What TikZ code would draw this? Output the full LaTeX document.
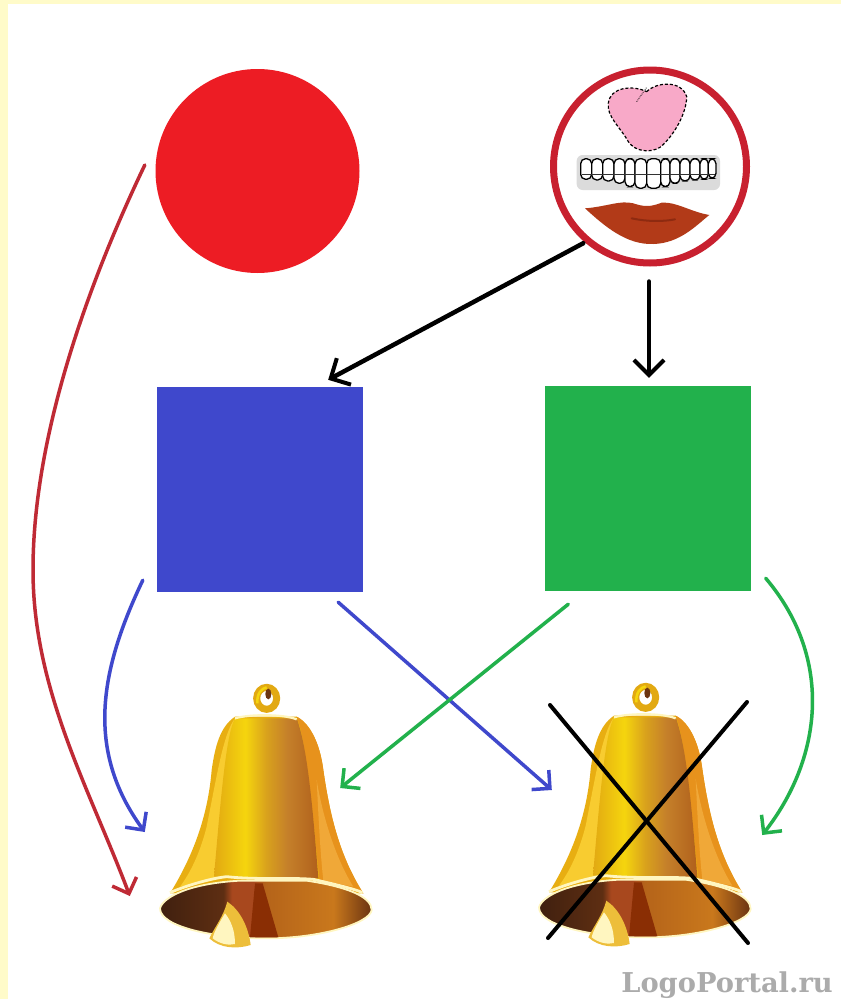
\documentclass[tikz,border=0pt]{standalone}
\usepackage{fontspec}
\usetikzlibrary{arrows.meta}
\definecolor{paper}{HTML}{FFFBC9}
\definecolor{disc}{HTML}{ED1C24}
\definecolor{ringc}{HTML}{C8202F}
\definecolor{bluec}{HTML}{3F48CC}
\definecolor{greenc}{HTML}{22B14C}
\definecolor{redline}{HTML}{BF2A35}
\definecolor{pinkc}{HTML}{F8A9C8}
\definecolor{lipc}{HTML}{B23A18}
\definecolor{lipd}{HTML}{8E2A10}
\definecolor{ba}{HTML}{E2A912}
\definecolor{bb}{HTML}{F5D50E}
\definecolor{bc}{HTML}{D9A21C}
\definecolor{bd}{HTML}{C5802A}
\definecolor{be}{HTML}{B0601C}
\definecolor{bandl}{HTML}{E8AE12}
\definecolor{bandp}{HTML}{F8CC30}
\definecolor{bandr}{HTML}{E7921C}
\definecolor{bandq}{HTML}{F0A838}
\definecolor{cream}{HTML}{FFF6C0}
\definecolor{inna}{HTML}{40200F}
\definecolor{innb}{HTML}{5E2E12}
\definecolor{innc}{HTML}{A8481E}
\definecolor{innd}{HTML}{8A2E04}
\definecolor{inne}{HTML}{B5641A}
\definecolor{innf}{HTML}{C9781C}
\definecolor{inng}{HTML}{6A3412}
\definecolor{clap}{HTML}{EDBE3A}
\pgfdeclarehorizontalshading{bellbody}{100bp}{color(0bp)=(ba);color(25bp)=(ba);color(40bp)=(bb);color(50bp)=(bc);color(60bp)=(bd);color(75bp)=(be);color(100bp)=(be)}
\pgfdeclarehorizontalshading{bellinner}{100bp}{color(0bp)=(inna);color(25bp)=(inna);color(40bp)=(innb);color(42bp)=(innc);color(47bp)=(innc);color(50bp)=(inne);color(66bp)=(innf);color(75bp)=(inng);color(100bp)=(inng)}
\tikzset{
  disc shape/.style={circle,fill=disc,minimum size=204pt,inner sep=0pt},
  face shape/.style={circle,draw=ringc,line width=7pt,fill=white,minimum size=193pt,inner sep=0pt},
  square shape/.style={rectangle,minimum width=206pt,minimum height=205pt,inner sep=0pt},
  bell shape/.style={rectangle,minimum width=214pt,minimum height=265pt,inner sep=0pt},
  conn/.style={line width=3.5pt,line cap=round,-{Straight Barb[length=13pt,width=26pt,line width=3.5pt]}},
  blk/.style={conn,line width=4.5pt,black,-{Straight Barb[length=15pt,width=30pt,line width=4pt]}},
  crossline/.style={line width=4pt,black,line cap=round},
  pics/goldbell/.style={code={
    \begin{scope}[scale=1/3]
      % loop
      \draw[line width=7pt,color=ba] (380,85) ellipse (30 and 33);
      \draw[line width=2.5pt,color=bb] (352,100) .. controls (350,70) and (365,55) .. (380,52);
      \fill[inng] (385,72) ellipse (9 and 16);
      % body
      \fill[bandl] (285,140) .. controls (240,170) and (225,230) .. (215,300) .. controls (205,420) and (170,540) .. (90,670)
        -- (670,670) .. controls (600,560) and (570,440) .. (550,300) .. controls (540,220) and (510,160) .. (470,140) -- cycle;
      \fill[bandp] (285,145) .. controls (250,190) and (230,320) .. (200,470) .. controls (180,550) and (150,610) .. (120,650)
        -- (240,625) -- cycle;
      \fill[bandr] (470,140) .. controls (510,160) and (540,220) .. (550,300) .. controls (570,440) and (600,560) .. (670,670)
        -- (540,640) .. controls (525,520) and (510,300) .. (480,170) -- cycle;
      \fill[bandq] (530,330) .. controls (550,450) and (590,570) .. (640,650) -- (550,632) .. controls (540,540) and (535,430) .. (530,330) -- cycle;
      \shade[shading=bellbody] (285,145) .. controls (260,190) and (245,350) .. (222,620) -- (535,625)
        .. controls (520,440) and (505,240) .. (470,145) -- cycle;
      \draw[cream,line width=2.2pt] (285,145) .. controls (330,132) and (430,132) .. (470,148);
      % mouth
      \shade[shading=bellinner,draw=cream,line width=1.8pt] (60,715) .. controls (70,680) and (150,640) .. (300,632)
        -- (500,632) .. controls (620,650) and (695,680) .. (695,720) .. controls (690,760) and (540,805) .. (380,805)
        .. controls (220,805) and (60,770) .. (60,715) -- cycle;
      \fill[innd] (345,640) -- (368,640) -- (415,802) -- (330,802) -- cycle;
      \draw[cream,line width=2.8pt] (90,668) .. controls (130,650) and (210,625) .. (260,620)
        .. controls (350,630) and (450,622) .. (520,628) .. controls (570,640) and (640,655) .. (668,668);
      % clapper
      \fill[clap] (262,695) .. controls (300,720) and (325,770) .. (332,825) .. controls (290,838) and (240,835) .. (208,805)
        .. controls (225,770) and (250,740) .. (262,695) -- cycle;
      \fill[cream] (255,730) .. controls (240,755) and (222,785) .. (218,805) .. controls (240,822) and (265,827) .. (285,822)
        .. controls (285,785) and (275,755) .. (255,730) -- cycle;
    \end{scope}
  }}
}
\setmainfont{DejaVu Serif}
\begin{document}
\begin{tikzpicture}[x=1pt,y=-1pt]
\useasboundingbox (0,0) rectangle (841,999);
\fill[paper] (0,0) rectangle (841,999);
\fill[white] (8,4) rectangle (841,999);
% nodes
\node[disc shape] (red) at (257.5,171) {};
\node[face shape] (face) at (650,166.5) {};
\node[square shape,fill=bluec] (blue) at (260,489.5) {};
\node[square shape,fill=greenc] (green) at (647.5,488.5) {};
% face details
\begin{scope}[shift={(540,50)},scale=1/3]
  \fill[pinkc] (320,125) .. controls (350,95) and (425,90) .. (440,140) .. controls (440,190) and (400,260) .. (360,292)
    .. controls (330,310) and (285,305) .. (265,275) .. controls (240,230) and (200,200) .. (205,160)
    .. controls (210,110) and (280,105) .. (320,125) -- cycle;
  \draw[black,line width=1.2pt,densely dashed] (320,125) .. controls (350,95) and (425,90) .. (440,140) .. controls (440,190) and (400,260) .. (360,292)
    .. controls (330,310) and (285,305) .. (265,275) .. controls (240,230) and (200,200) .. (205,160)
    .. controls (210,110) and (280,105) .. (320,125) -- cycle;
  \draw[black,line width=0.8pt,densely dotted] (290,155) -- (320,112);
  \fill[black!14,rounded corners=6pt] (110,315) rectangle (540,420);
  \foreach \xa/\xb/\yb in {122/155/388,155/188/390,188/222/393,222/255/400,255/285/410,285/320/415,320/362/415,362/390/410,390/420/400,420/450/393,450/480/390,480/505/388,505/528/385}{
    \draw[black,line width=1.3pt,fill=white,rounded corners=5pt] (\xa,326) rectangle (\xb,\yb);
  }
  \draw[black!80,line width=0.7pt] (125,372) -- (525,372);
  \fill[lipc] (135,475) .. controls (200,470) and (240,450) .. (280,460) .. controls (310,470) and (330,472) .. (365,458)
    .. controls (410,455) and (450,485) .. (508,495) .. controls (470,525) and (420,580) .. (340,582)
    .. controls (260,585) and (195,530) .. (135,475) -- cycle;
  \draw[lipd,line width=2pt,line cap=round] (275,505) .. controls (320,515) and (370,515) .. (405,508);
\end{scope}
% bells
\node[bell shape] (bell1) at (266,817) {};
\node[bell shape] (bell2) at (645,816) {};
\pic at (140,670) {goldbell};
\pic at (519,669) {goldbell};
% connector ends
\coordinate (faceOutA) at ([shift={(-1,15)}]face.south);
\coordinate (faceOutB) at ([shift={(4,6)}]face.225);
\coordinate (blueIn) at ([shift={(-35,-7)}]blue.north east);
\coordinate (greenIn) at ([shift={(1.5,-8)}]green.north);
\coordinate (redStart) at ([shift={(-10.5,-6)}]red.west);
\coordinate (blueStartA) at ([shift={(-14,-12)}]blue.south west);
\coordinate (blueStartB) at ([shift={(-25,10)}]blue.south east);
\coordinate (greenStartA) at ([shift={(24,13)}]green.south west);
\coordinate (greenStartB) at ([shift={(15,-13)}]green.south east);
\coordinate (tipRed) at ([shift={(-29,79)}]bell1.west);
\coordinate (tipBlue) at ([shift={(-14,15)}]bell1.west);
\coordinate (tipBlueCross) at ([shift={(14,-26)}]bell2.west);
\coordinate (tipGreenCross) at ([shift={(-33,-29)}]bell1.east);
\coordinate (tipGreen) at ([shift={(10,19)}]bell2.east);
\coordinate (xa) at (550,705);
\coordinate (xb) at (748,943);
\coordinate (xc) at (747,702);
\coordinate (xd) at (548,938);
% connectors
\draw[blk] (faceOutB) -- (blueIn);
\draw[blk] (faceOutA) -- (greenIn);
\draw[conn,redline] (redStart) .. controls (85,290) and (33,440) .. (33,570) .. controls (33,690) and (90,790) .. (tipRed);
\draw[conn,bluec] (blueStartA) .. controls (100,670) and (85,750) .. (tipBlue);
\draw[conn,bluec] (blueStartB) -- (tipBlueCross);
\draw[conn,greenc] (greenStartA) -- (tipGreenCross);
\draw[conn,greenc] (greenStartB) .. controls (835,660) and (821,760) .. (tipGreen);
\draw[crossline] (xa) -- (xb);
\draw[crossline] (xc) -- (xd);
% watermark
\node[anchor=base east,text=black!33,font=\bfseries\fontsize{27.3}{27.3}\selectfont,inner sep=0pt] (mark) at (833,992) {LogoPortal.ru};
\end{tikzpicture}
\end{document}
